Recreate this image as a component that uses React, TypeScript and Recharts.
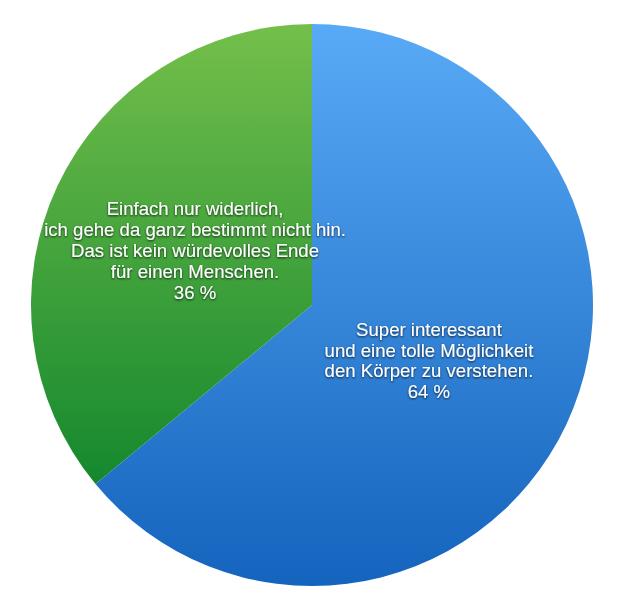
import { PieChart, Pie, Cell } from 'recharts';

const categories = ['Super interessant', 'Einfach nur widerlich'];
const shares = [64, 36];
const labelLines = [
  ['Super interessant', 'und eine tolle Möglichkeit', 'den Körper zu verstehen.', '64 %'],
  [
    'Einfach nur widerlich,',
    'ich gehe da ganz bestimmt nicht hin.',
    'Das ist kein würdevolles Ende',
    'für einen Menschen.',
    '36 %',
  ],
];

const data = categories.map((name, i) => ({ name, value: shares[i], lines: labelLines[i] }));
const fills = ['url(#gradBlue)', 'url(#gradGreen)'];

const RADIAN = Math.PI / 180;

const renderLabel = (props: any) => {
  const { cx, cy, midAngle, outerRadius, index } = props;
  const r = outerRadius * 0.46;
  const x = cx + r * Math.cos(-midAngle * RADIAN);
  const y = cy + r * Math.sin(-midAngle * RADIAN);
  const lines: string[] = data[index].lines;
  const step = 20.8;
  const startY = y - ((lines.length - 1) * step) / 2;
  return (
    <text
      x={x}
      y={startY}
      fill="#fff"
      textAnchor="middle"
      dominantBaseline="central"
      fontFamily="'Liberation Sans', Arial, sans-serif"
      fontSize={18.6}
      filter="url(#txtShadow)"
    >
      {lines.map((l, i) => (
        <tspan key={i} x={x} y={startY + i * step}>
          {l}
        </tspan>
      ))}
    </text>
  );
};

export default function App() {
  return (
    <PieChart width={626} height={599}>
      <defs>
        <linearGradient id="gradBlue" gradientUnits="userSpaceOnUse" x1="0" y1="16" x2="0" y2="579">
          <stop offset="0%" stopColor="#58aaf6" />
          <stop offset="100%" stopColor="#1463bd" />
        </linearGradient>
        <linearGradient id="gradGreen" gradientUnits="userSpaceOnUse" x1="0" y1="16" x2="0" y2="476">
          <stop offset="0%" stopColor="#74bf4b" />
          <stop offset="100%" stopColor="#14882e" />
        </linearGradient>
        <filter id="txtShadow" x="-10%" y="-10%" width="120%" height="130%">
          <feDropShadow dx="0" dy="1" stdDeviation="1.2" floodColor="#000" floodOpacity="0.8" />
        </filter>
      </defs>
      <Pie
        data={data}
        dataKey="value"
        cx={299}
        cy={292}
        outerRadius={281}
        startAngle={90}
        endAngle={-270}
        stroke="none"
        label={renderLabel}
        labelLine={false}
        isAnimationActive={false}
      >
        {data.map((d, i) => (
          <Cell key={d.name} fill={fills[i]} />
        ))}
      </Pie>
    </PieChart>
  );
}
